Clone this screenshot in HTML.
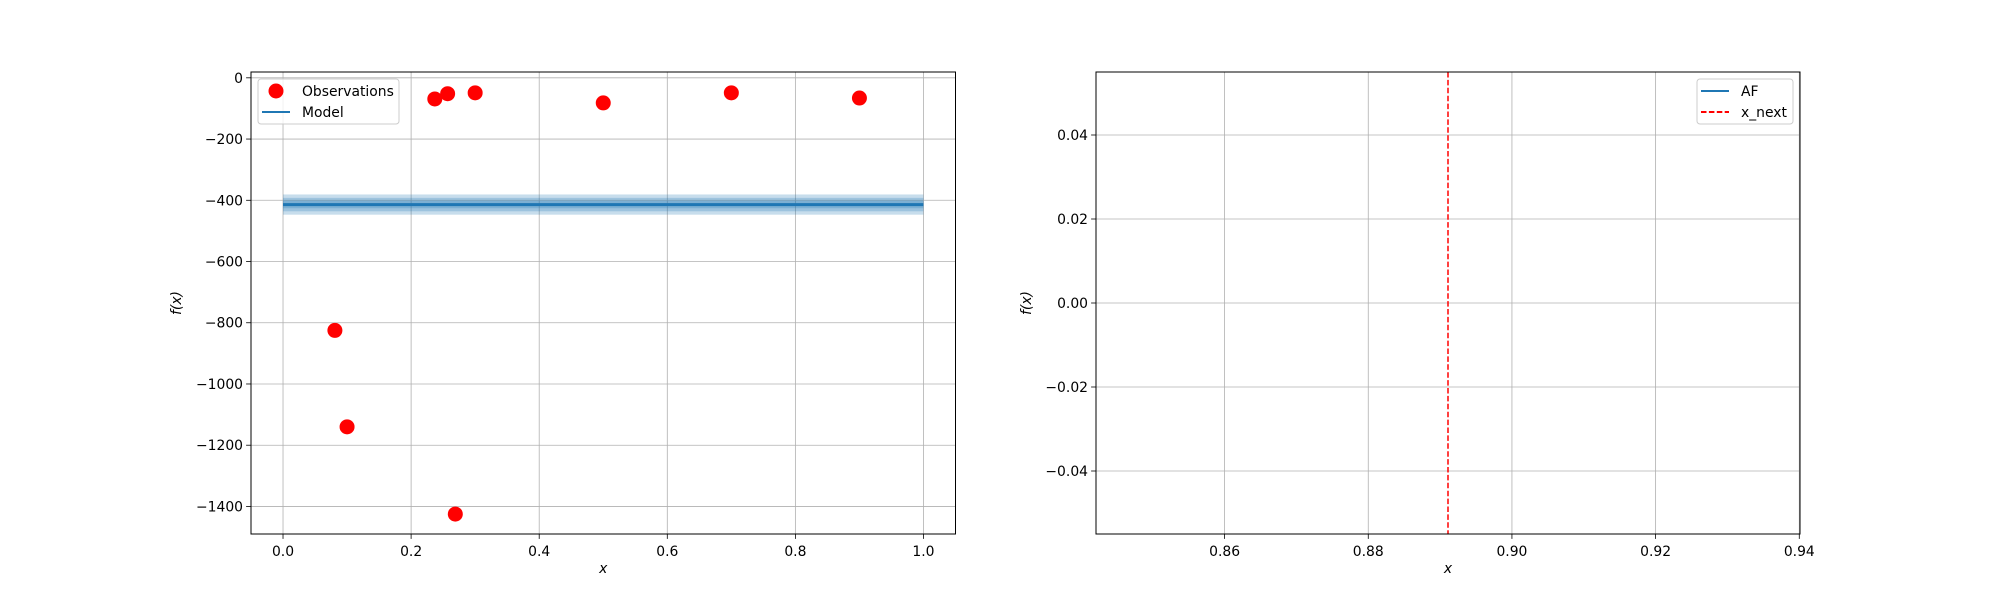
<!DOCTYPE html>
<html><head><meta charset="utf-8"><style>
body{margin:0;background:#fff}
svg{display:block;font-family:"DejaVu Sans","Liberation Sans",sans-serif}
</style></head><body>
<svg id="fig" width="2000" height="600"></svg>
<script>
const obsX=[0.081,0.1,0.237,0.257,0.269,0.3,0.5,0.7,0.9];
const obsY=[-825,-1140,-69,-52,-1425,-49,-82,-49,-66];
const modelX=[0,1];
const modelY=[-414,-414];
const bandHalf=[33,22,12];
const leftXTicks=[0,0.2,0.4,0.6,0.8,1.0];
const leftXLabels=["0.0","0.2","0.4","0.6","0.8","1.0"];
const leftYTicks=[0,-200,-400,-600,-800,-1000,-1200,-1400];
const leftYLabels=["0","\u2212200","\u2212400","\u2212600","\u2212800","\u22121000","\u22121200","\u22121400"];
const xNext=[0.8911];
const rightXTicks=[0.86,0.88,0.90,0.92,0.94];
const rightXLabels=["0.86","0.88","0.90","0.92","0.94"];
const rightYTicks=[0.04,0.02,0,-0.02,-0.04];
const rightYLabels=["0.04","0.02","0.00","\u22120.02","\u22120.04"];

const NS="http://www.w3.org/2000/svg";
const fig=document.getElementById('fig');
function mk(tag,attrs,parent,name,inter){const e=document.createElementNS(NS,tag);for(const k in attrs)e.setAttribute(k,attrs[k]);


(parent||fig).appendChild(e);return e;}
function txt(s,attrs,parent,name){const t=mk('text',attrs,parent,name,false);t.textContent=s;return t;}

function axes(L,R,T,B,x0,x1,y0,y1,prefix){
  const g=mk('g',{},fig,prefix+'-axes',false);
  const sx=v=>L+(v-x0)/(x1-x0)*(R-L);
  const sy=v=>B-(v-y0)/(y1-y0)*(B-T);
  return {g,sx,sy,L,R,T,B};
}
function drawGridTicks(a,xt,xl,yt,yl,prefix){
  xt.forEach((v,i)=>{const x=a.sx(v);
    mk('line',{x1:x,x2:x,y1:a.T,y2:a.B,stroke:'#b0b0b0','stroke-width':0.8},a.g,prefix+'-x-grid',false);
    mk('line',{x1:x,x2:x,y1:a.B,y2:a.B+4.9,stroke:'#000','stroke-width':0.8},a.g,prefix+'-x-tick',false);
    txt(xl[i],{x:x,y:a.B+22,'font-size':13.9,'text-anchor':'middle'},a.g,prefix+'-x-tick-label');});
  yt.forEach((v,i)=>{const y=a.sy(v);
    mk('line',{x1:a.L,x2:a.R,y1:y,y2:y,stroke:'#b0b0b0','stroke-width':0.8},a.g,prefix+'-y-grid',false);
    mk('line',{x1:a.L-4.9,x2:a.L,y1:y,y2:y,stroke:'#000','stroke-width':0.8},a.g,prefix+'-y-tick',false);
    txt(yl[i],{x:a.L-8,y:y+5,'font-size':13.9,'text-anchor':'end'},a.g,prefix+'-y-tick-label');});
}
function frame(a,prefix,ylx){
  mk('rect',{x:a.L,y:a.T,width:a.R-a.L,height:a.B-a.T,fill:'none',stroke:'#000','stroke-width':1},a.g,prefix+'-frame',false);
  txt('x',{x:(a.L+a.R)/2,y:573,'font-size':13.9,'font-style':'italic','text-anchor':'middle'},a.g,prefix+'-x-axis-title');
  txt('f(x)',{x:ylx,y:(a.T+a.B)/2,'font-size':13.9,'font-style':'italic','text-anchor':'middle',transform:`rotate(-90 ${ylx} ${(a.T+a.B)/2})`},a.g,prefix+'-y-axis-title');
}

// Left
const A=axes(251,955.5,72,534,-0.05,1.05,-1490,19,'left');
drawGridTicks(A,leftXTicks,leftXLabels,leftYTicks,leftYLabels,'left');
bandHalf.forEach(h=>{
  mk('rect',{x:A.sx(modelX[0]),y:A.sy(modelY[0]+h),width:A.sx(modelX[1])-A.sx(modelX[0]),height:A.sy(modelY[0]-h)-A.sy(modelY[0]+h),fill:'#1f77b4','fill-opacity':0.25},A.g,'model-confidence-band',false);
});
mk('line',{x1:A.sx(modelX[0]),x2:A.sx(modelX[1]),y1:A.sy(modelY[0]),y2:A.sy(modelY[1]),stroke:'#1f77b4','stroke-width':3},A.g,'model-line',false);
obsX.forEach((v,i)=>{
  mk('circle',{cx:A.sx(v),cy:A.sy(obsY[i]),r:7.5,fill:'#ff0000'},A.g,'observation-point',false);
});
frame(A,'left',181);
const lg=mk('g',{},A.g,'left-legend',false);
mk('rect',{x:258,y:79,width:141,height:45,rx:3,fill:'#fff','fill-opacity':0.8,stroke:'#ccc'},lg,'legend-box',false);
mk('circle',{cx:276,cy:91,r:7.5,fill:'#ff0000'},lg,'legend-observations-marker',false);
txt('Observations',{x:302,y:96,'font-size':13.9},lg,'legend-observations-label');
mk('line',{x1:262,x2:290,y1:112,y2:112,stroke:'#1f77b4','stroke-width':2},lg,'legend-model-line',false);
txt('Model',{x:302,y:117,'font-size':13.9},lg,'legend-model-label');

// Right
const B2=axes(1096,1800,72,534,0.8421,0.9401,-0.055,0.055,'right');
drawGridTicks(B2,rightXTicks,rightXLabels,rightYTicks,rightYLabels,'right');
xNext.forEach(v=>{
  mk('line',{x1:B2.sx(v),x2:B2.sx(v),y1:B2.T,y2:B2.B,stroke:'#ff0000','stroke-width':1.5,'stroke-dasharray':'5.5,2.4'},B2.g,'x-next-line',false);
});
frame(B2,'right',1031);
const lg2=mk('g',{},B2.g,'right-legend',false);
mk('rect',{x:1697,y:79,width:96,height:45,rx:3,fill:'#fff','fill-opacity':0.8,stroke:'#ccc'},lg2,'legend-box',false);
mk('line',{x1:1701,x2:1729,y1:91,y2:91,stroke:'#1f77b4','stroke-width':2},lg2,'legend-af-line',false);
txt('AF',{x:1741,y:96,'font-size':13.9},lg2,'legend-af-label');
mk('line',{x1:1701,x2:1729,y1:112,y2:112,stroke:'#ff0000','stroke-width':2,'stroke-dasharray':'5.5,2.4'},lg2,'legend-x-next-line',false);
txt('x_next',{x:1741,y:117,'font-size':13.9},lg2,'legend-x-next-label');
</script>
</body></html>
